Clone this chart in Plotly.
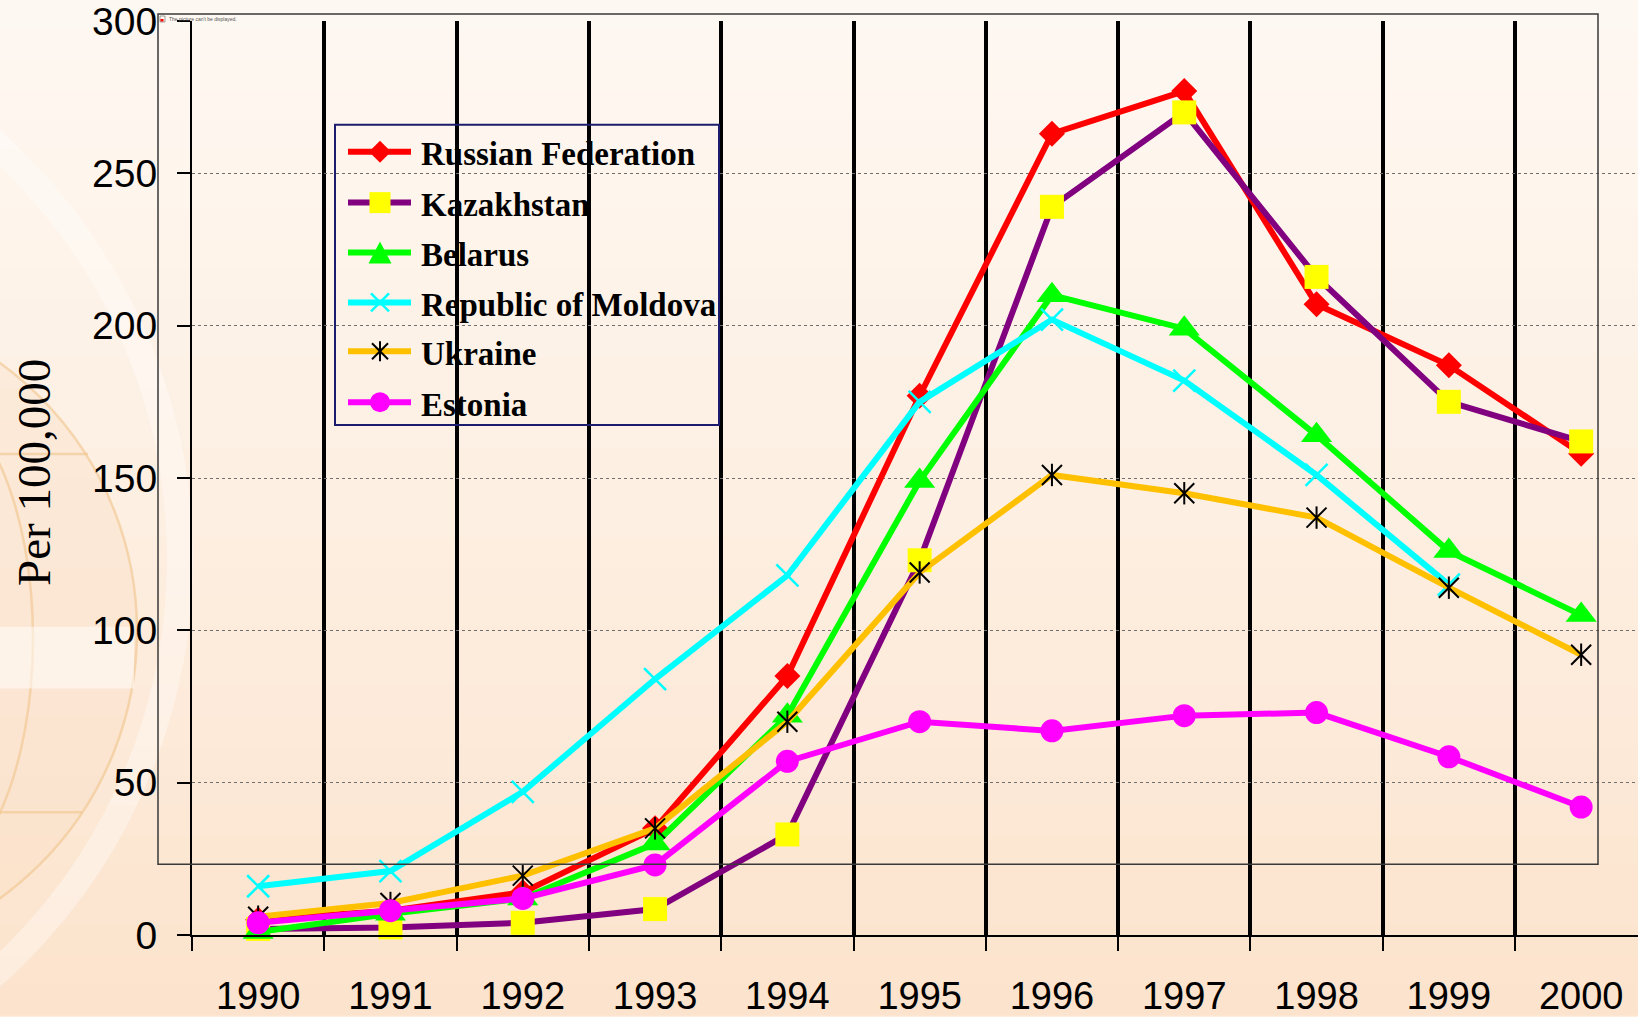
import plotly.graph_objects as go

# ---------------- data ----------------
years = ["1990", "1991", "1992", "1993", "1994", "1995", "1996", "1997", "1998", "1999", "2000"]
names = ["Russian Federation", "Kazakhstan", "Belarus", "Republic of Moldova", "Ukraine", "Estonia"]
russia = [5, 8, 14, 35, 85, 177, 263, 277, 207, 187, 158]
kazakhstan = [2, 2.5, 4, 8.5, 33, 123, 239, 270, 216, 175, 162]
belarus = [1, 7, 12, 30, 72, 149, 210, 199, 164, 126, 105]
moldova = [16, 21, 47, 84, 118, 175, 202, 182, 151, 115, None]
ukraine = [6, 10.5, 19.5, 35, 70, 119, 151, 145, 137, 114, 92]
estonia = [4, 8, 12, 23, 57, 70, 67, 72, 73, 58.5, 42]
y_ticks = [0, 50, 100, 150, 200, 250, 300]

# ---------------- geometry helpers ----------------
W, H = 1638, 1017
L, R, T, B = 192, 0, 21, 80
PW, PH = W - L - R, H - T - B
SLOT = 132.3


def px(x):
    return (x - L) / PW


def py(y):
    return (H - B - y) / PH


SANS = "Liberation Sans, Arial, sans-serif"
SERIF = "Liberation Serif, Times New Roman, serif"

fig = go.Figure()

series = [
    dict(y=russia, line="#ff0000", marker=dict(symbol="diamond", size=20, color="#ff0000")),
    dict(y=kazakhstan, line="#800080", marker=dict(symbol="square", size=24, color="#ffff00")),
    dict(y=belarus, line="#00ff00", marker=dict(symbol="triangle-up", size=27, color="#00ff00")),
    dict(y=moldova, line="#00ffff", marker=dict(symbol="x-thin-open", size=22, color="#00ffff",
                                                 line=dict(color="#00ffff", width=2.5))),
    dict(y=ukraine, line="#ffc000", marker=dict(symbol="x-thin-open", size=20, color="#000000",
                                                 line=dict(color="#000000", width=2))),
    dict(y=estonia, line="#ff00ff", marker=dict(symbol="circle", size=23, color="#ff00ff")),
]

for name, s in zip(names, series):
    fig.add_trace(go.Scatter(
        x=years, y=s["y"], name=name, mode="lines+markers",
        line=dict(color=s["line"], width=6), marker=s["marker"],
        cliponaxis=False, showlegend=False, connectgaps=False,
    ))
    if name == "Ukraine":
        fig.add_trace(go.Scatter(
            x=years, y=s["y"], mode="markers", showlegend=False, cliponaxis=False,
            marker=dict(symbol="line-ns-open", size=16, color="#000000",
                        line=dict(color="#000000", width=2)),
            hoverinfo="skip",
        ))

shapes = []
annotations = []

# ---------------- background (vertical gradient + decoration) ----------------
top_c = (254, 248, 242)
mid_c = (253, 239, 226)
bot_c = (252, 227, 204)
NB = 34
for i in range(NB):
    t = (i + 0.5) / NB
    if t < 0.5:
        a, b, u = top_c, mid_c, t / 0.5
    else:
        a, b, u = mid_c, bot_c, (t - 0.5) / 0.5
    c = tuple(int(round(a[k] + (b[k] - a[k]) * u)) for k in range(3))
    y0 = H * i / NB
    y1 = H * (i + 1) / NB + 1
    shapes.append(dict(type="rect", xref="paper", yref="paper", layer="below",
                       x0=px(0), x1=px(W), y0=py(y0), y1=py(y1),
                       fillcolor="rgb(%d,%d,%d)" % c, line=dict(width=0)))

# large light swoosh
shapes.append(dict(type="circle", xref="paper", yref="paper", layer="below",
                   x0=px(-940), x1=px(180), y0=py(0), y1=py(1120),
                   line=dict(color="rgba(255,255,255,0.35)", width=26), fillcolor="rgba(0,0,0,0)"))
# globe
shapes.append(dict(type="circle", xref="paper", yref="paper", layer="below",
                   x0=px(-525), x1=px(137), y0=py(301), y1=py(963),
                   line=dict(color="rgba(240,196,140,0.6)", width=2.5), fillcolor="rgba(250,222,195,0.35)"))
shapes.append(dict(type="circle", xref="paper", yref="paper", layer="below",
                   x0=px(-200), x1=px(33), y0=py(390), y1=py(890),
                   line=dict(color="rgba(240,196,140,0.6)", width=2.5), fillcolor="rgba(0,0,0,0)"))
shapes.append(dict(type="rect", xref="paper", yref="paper", layer="below",
                   x0=px(0), x1=px(134), y0=py(628), y1=py(690),
                   fillcolor="rgba(255,255,255,0.5)", line=dict(width=0)))
for yy, xx in [(455, 88), (814, 82)]:
    shapes.append(dict(type="line", xref="paper", yref="paper", layer="below",
                       x0=px(0), x1=px(xx), y0=py(yy), y1=py(yy),
                       line=dict(color="rgba(240,196,140,0.6)", width=2.5)))

# frame of the (missing) picture placeholder
shapes.append(dict(type="rect", xref="paper", yref="paper", layer="above",
                   x0=px(158), x1=px(1598), y0=py(14), y1=py(866),
                   line=dict(color="#3a3a3a", width=1.5), fillcolor="rgba(0,0,0,0)"))
shapes.append(dict(type="rect", xref="paper", yref="paper", layer="above",
                   x0=px(160), x1=px(165), y0=py(16), y1=py(22),
                   line=dict(color="#888888", width=0.8), fillcolor="rgba(0,0,0,0)"))
shapes.append(dict(type="rect", xref="paper", yref="paper", layer="above",
                   x0=px(160.5), x1=px(163.5), y0=py(19), y1=py(21.5),
                   line=dict(width=0), fillcolor="#ff0000"))
annotations.append(dict(text="The picture can't be displayed.", xref="paper", yref="paper",
                        x=px(167), y=py(19), xanchor="left", yanchor="middle", showarrow=False,
                        font=dict(family=SANS, size=5, color="#555555")))

# ---------------- legend (drawn manually) ----------------
LX0, LX1, LY0, LY1 = 335, 719, 125, 426
shapes.append(dict(type="rect", xref="paper", yref="paper", layer="above",
                   x0=px(LX0), x1=px(LX1), y0=py(LY0), y1=py(LY1),
                   line=dict(color="#1c1c6e", width=2), fillcolor="rgba(0,0,0,0)"))
row_y = [152, 203, 253, 303, 352, 403]
mx = 380


def seg(x0, y0, x1, y1, color, width):
    return dict(type="line", xref="paper", yref="paper", layer="above",
                x0=px(x0), x1=px(x1), y0=py(y0), y1=py(y1), line=dict(color=color, width=width))


def path(points, color):
    d = "M " + " L ".join("%.5f,%.5f" % (px(a), py(b)) for a, b in points) + " Z"
    return dict(type="path", xref="paper", yref="paper", layer="above", path=d,
                fillcolor=color, line=dict(width=0))


for i, (name, s) in enumerate(zip(names, series)):
    cy = row_y[i]
    shapes.append(seg(348, cy, 411, cy, s["line"], 6))
    if i == 0:
        shapes.append(path([(mx - 11, cy), (mx, cy - 11), (mx + 11, cy), (mx, cy + 11)], "#ff0000"))
    elif i == 1:
        shapes.append(dict(type="rect", xref="paper", yref="paper", layer="above",
                           x0=px(mx - 10.5), x1=px(mx + 10.5), y0=py(cy - 10.5), y1=py(cy + 10.5),
                           fillcolor="#ffff00", line=dict(width=0)))
    elif i == 2:
        shapes.append(path([(mx - 11.5, cy + 11), (mx, cy - 11), (mx + 11.5, cy + 11)], "#00ff00"))
    elif i == 3:
        shapes.append(seg(mx - 9, cy - 9, mx + 9, cy + 9, "#00ffff", 2.5))
        shapes.append(seg(mx - 9, cy + 9, mx + 9, cy - 9, "#00ffff", 2.5))
    elif i == 4:
        shapes.append(seg(mx - 8, cy - 8, mx + 8, cy + 8, "#000000", 2))
        shapes.append(seg(mx - 8, cy + 8, mx + 8, cy - 8, "#000000", 2))
        shapes.append(seg(mx, cy - 10, mx, cy + 10, "#000000", 2))
    else:
        shapes.append(dict(type="circle", xref="paper", yref="paper", layer="above",
                           x0=px(mx - 10), x1=px(mx + 10), y0=py(cy - 10), y1=py(cy + 10),
                           fillcolor="#ff00ff", line=dict(width=0)))
    annotations.append(dict(text="<b>%s</b>" % name, xref="paper", yref="paper",
                            x=px(419), y=py(cy + 2.5), xanchor="left", yanchor="middle", showarrow=False,
                            font=dict(family=SERIF, size=33, color="#000000")))

# y axis title
annotations.append(dict(text="Per 100,000", xref="paper", yref="paper", x=px(34), y=py(474),
                        xanchor="center", yanchor="middle", textangle=-90, showarrow=False,
                        font=dict(family=SERIF, size=47, color="#000000")))

fig.update_layout(
    width=W, height=H,
    margin=dict(l=L, r=R, t=T, b=B, pad=0),
    paper_bgcolor="#fdeee0",
    plot_bgcolor="rgba(0,0,0,0)",
    showlegend=False,
    shapes=shapes,
    annotations=annotations,
    xaxis=dict(
        type="category", categoryorder="array", categoryarray=years,
        range=[-0.5, -0.5 + PW / SLOT],
        tickson="boundaries", ticks="outside", ticklen=14, tickwidth=2, tickcolor="#000000",
        showgrid=True, gridcolor="#000000", gridwidth=4,
        showline=True, linecolor="#000000", linewidth=2,
        zeroline=False, ticklabelstandoff=26, ticklabeloverflow="allow",
        tickfont=dict(family=SANS, size=38, color="#000000"),
    ),
    yaxis=dict(
        range=[0, 300], tickvals=y_ticks, ticktext=[str(v) for v in y_ticks],
        ticks="outside", ticklen=13, tickwidth=2, tickcolor="#000000",
        showgrid=True, gridcolor="#6f6f6f", gridwidth=1, griddash="dot",
        showline=True, linecolor="#000000", linewidth=2, zeroline=False,
        ticklabelstandoff=12, ticklabeloverflow="allow",
        tickfont=dict(family=SANS, size=39, color="#000000"),
    ),
)

fig.write_html(
    "out.html",
    config={"displayModeBar": False},
    post_script="document.body.style.margin='0';document.body.style.padding='0';"
                "document.documentElement.style.overflow='hidden';",
)
